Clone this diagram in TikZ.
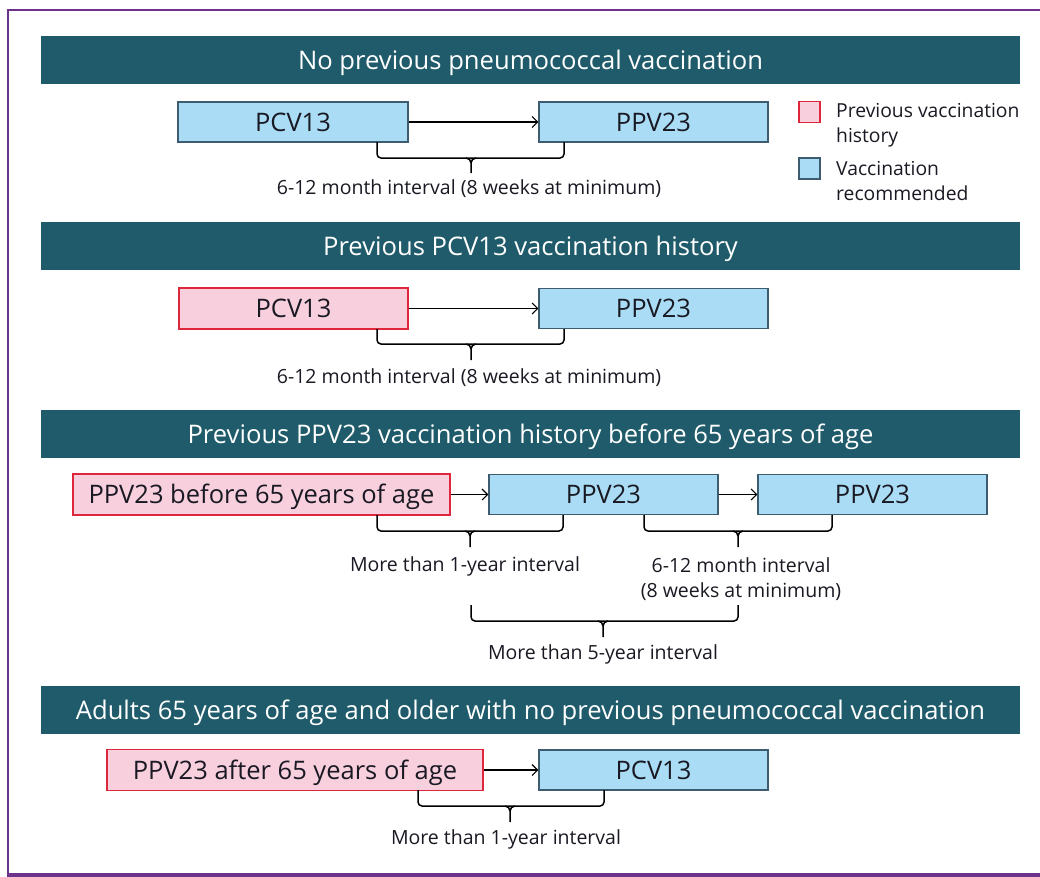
\documentclass[tikz,border=0pt]{standalone}
\usepackage{fontspec}
\setmainfont{Open Sans}
\usetikzlibrary{arrows.meta,calc}
\definecolor{hdr}{RGB}{31,91,106}
\definecolor{bfill}{RGB}{170,221,245}
\definecolor{bline}{RGB}{62,92,112}
\definecolor{pfill}{RGB}{248,207,221}
\definecolor{pline}{RGB}{222,38,60}
\definecolor{frame}{RGB}{108,50,140}
\definecolor{txt}{RGB}{25,25,35}
\newcommand\ibrace[6]{%
  \draw[bracestyle,rounded corners=4pt] (#1,#3) -- (#1,#4) -- (#2,#4) -- (#2,#3);
  \draw[bracestyle] (#6-5,#4) to[out=0,in=90] (#6,#4+5) -- (#6,#5);
  \draw[bracestyle] (#6+5,#4) to[out=180,in=90] (#6,#4+5);
}
\begin{document}
\begin{tikzpicture}[x=1pt,y=-1pt,
  hdrbar/.style={fill=hdr,draw=none,minimum width=979pt,minimum height=48pt,inner sep=0pt,text=white,font=\fontsize{25.6}{30}\selectfont,text height=18.3pt,text depth=0pt},
  bluebox/.style={fill=bfill,draw=bline,line width=1.1pt,minimum height=40pt,inner sep=0pt,text=txt,font=\fontsize{25.5}{30}\selectfont,text height=18.2pt,text depth=0pt},
  pinkbox/.style={fill=pfill,draw=pline,line width=1.3pt,minimum height=41pt,inner sep=0pt,text=txt,font=\fontsize{25.5}{30}\selectfont,text height=18.2pt,text depth=0pt},
  lbl/.style={text=txt,font=\fontsize{19.5}{25}\selectfont,align=center,inner sep=0pt},
  legtxt/.style={text=txt,font=\fontsize{19.3}{25}\selectfont,align=left,inner sep=0pt,anchor=west},
  flow/.style={draw=black,line width=1.2pt,-{Straight Barb[length=5.5pt,width=11pt,line width=1.2pt]}},
  bracestyle/.style={draw=black,line width=1.5pt}]
\useasboundingbox (0,0) rectangle (1040,876);
% frame
\begin{scope}
\clip (0,0) rectangle (1040,876);
\draw[frame,line width=2pt] (1050,10) -- (8,10) -- (8,874);
\fill[frame] (7,873) rectangle (1050,880);
\end{scope}
% headers
\node[hdrbar] (h1) at (530.5,60) {No previous pneumococcal vaccination};
\node[hdrbar] (h2) at (530.5,246) {Previous PCV13 vaccination history};
\node[hdrbar] (h3) at (530.5,434) {Previous PPV23 vaccination history before 65 years of age};
\node[hdrbar] (h4) at (530.5,710) {Adults 65 years of age and older with no previous pneumococcal vaccination};
% section 1
\node[bluebox,minimum width=230pt] (a1) at (293,122) {PCV13};
\node[bluebox,minimum width=229pt] (a2) at (653.5,122) {PPV23};
\draw[flow] (a1.east) -- (a2.west);
\ibrace{377}{564}{142}{158}{173}{471}
\node[lbl] (la) at (469,189) {6-12 month interval (8 weeks at minimum)};
% legend
\node[pinkbox,minimum width=21pt,minimum height=21pt,line width=1.2pt] (kp) at (809.5,112) {};
\node[legtxt] (kpt) at (836,125) {Previous vaccination\\history};
\node[bluebox,minimum width=21pt,minimum height=21pt,line width=1.2pt] (kb) at (809.5,168.5) {};
\node[legtxt] (kbt) at (836,181) {Vaccination\\recommended};
% section 2
\node[pinkbox,minimum width=229pt] (b1) at (293.5,308.5) {PCV13};
\node[bluebox,minimum width=229pt] (b2) at (653.5,308.5) {PPV23};
\draw[flow] (b1.east) -- (b2.west);
\ibrace{377}{564}{329}{344}{360}{471}
\node[lbl] (lb) at (469,378) {6-12 month interval (8 weeks at minimum)};
% section 3
\node[pinkbox,minimum width=377pt] (c1) at (261.5,494.5) {PPV23 before 65 years of age};
\node[bluebox,minimum width=229pt] (c2) at (603.5,494.5) {PPV23};
\node[bluebox,minimum width=229pt] (c3) at (872.5,494.5) {PPV23};
\draw[flow] (c1.east) -- (c2.west);
\draw[flow] (c2.east) -- (c3.west);
\ibrace{377}{563}{515}{531}{547}{470}
\ibrace{644}{832}{515}{531}{547}{738}
\node[lbl] (lc1) at (465,566) {More than 1-year interval};
\node[lbl] (lc2) at (741,579.5) {6-12 month interval\\(8 weeks at minimum)};
\ibrace{471}{738}{605}{621}{637}{603}
\node[lbl] (lc3) at (603,654) {More than 5-year interval};
% section 4
\node[pinkbox,minimum width=376pt] (d1) at (295,770) {PPV23 after 65 years of age};
\node[bluebox,minimum width=229pt] (d2) at (653.5,770) {PCV13};
\draw[flow] (d1.east) -- (d2.west);
\ibrace{418}{604}{790}{806}{822}{510}
\node[lbl] (ld) at (506,839) {More than 1-year interval};
\end{tikzpicture}
\end{document}
